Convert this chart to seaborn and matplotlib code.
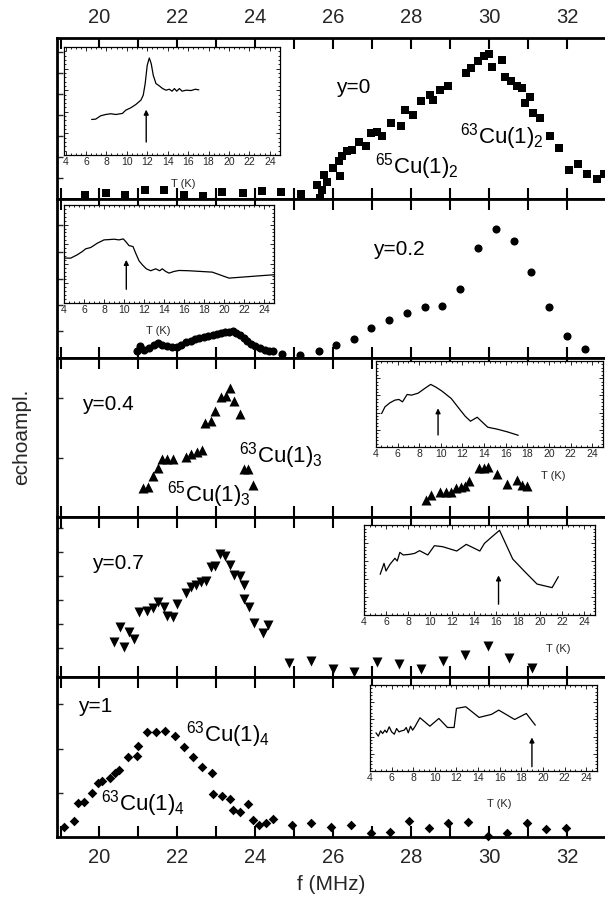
import numpy as np
import pandas as pd
import matplotlib
matplotlib.use("Agg")
import matplotlib.pyplot as plt
import seaborn as sns
from matplotlib.ticker import MultipleLocator

sns.set_theme(style="ticks")
plt.rcParams['font.family'] = ['Liberation Sans', 'DejaVu Sans']
plt.rcParams['mathtext.fontset'] = 'custom'
plt.rcParams['mathtext.rm'] = 'Liberation Sans'
plt.rcParams['mathtext.it'] = 'Liberation Sans:italic'

# ---------------- main spectra (f in MHz, echo amplitude in arb. units) -------------
f_y0 = [19.64, 20.16, 20.66, 21.16, 21.65, 22.17, 22.65, 23.15, 23.67, 24.17, 24.66, 25.16,
        25.59, 25.66, 25.72, 25.84, 25.75, 25.98, 26.18, 26.14, 26.23, 26.36, 26.48, 26.66,
        26.84, 26.97, 27.11, 27.25, 27.47, 27.74, 27.84, 28.04, 28.24, 28.47, 28.56, 28.74,
        28.95, 29.40, 29.53, 29.70, 29.87, 30.00, 30.07, 30.32, 30.41, 30.55, 30.70, 30.83,
        31.04, 30.91, 31.11, 31.29, 31.55, 31.79, 32.04, 32.28, 32.51, 32.77, 32.94]
a_y0 = [0.027, 0.037, 0.023, 0.054, 0.058, 0.027, 0.021, 0.041, 0.037, 0.048, 0.041, 0.033,
        0.089, 0.006, 0.058, 0.104, 0.151, 0.193, 0.145, 0.234, 0.269, 0.296, 0.306, 0.352,
        0.331, 0.410, 0.414, 0.393, 0.472, 0.451, 0.555, 0.524, 0.607, 0.648, 0.617, 0.679,
        0.704, 0.783, 0.814, 0.855, 0.886, 0.903, 0.818, 0.865, 0.758, 0.731, 0.704, 0.689,
        0.634, 0.596, 0.534, 0.503, 0.389, 0.317, 0.178, 0.219, 0.157, 0.124, 0.157]

f_y02 = [20.95, 21.04, 21.13, 21.27, 21.40, 21.49, 21.61, 21.72, 21.86, 21.99, 22.10, 22.22,
         22.34, 22.45, 22.55, 22.67, 22.79, 22.90, 23.01, 23.13, 23.23, 23.33, 23.42, 23.51,
         23.61, 23.70, 23.79, 23.89, 24.00, 24.12, 24.24, 24.35, 24.46,
         24.69, 25.14, 25.62, 26.07, 26.52, 26.97, 27.43, 27.90, 28.35, 28.79, 29.26, 29.71,
         30.17, 30.63, 31.07, 31.54, 32.00, 32.45]
a_y02 = [0.042, 0.073, 0.052, 0.063, 0.079, 0.094, 0.079, 0.073, 0.067, 0.071, 0.084, 0.098,
         0.109, 0.121, 0.125, 0.130, 0.136, 0.146, 0.151, 0.157, 0.161, 0.163, 0.167, 0.157,
         0.142, 0.126, 0.105, 0.088, 0.073, 0.063, 0.052, 0.046, 0.042,
         0.027, 0.021, 0.046, 0.079, 0.119, 0.188, 0.241, 0.282, 0.318, 0.324, 0.433, 0.690,
         0.812, 0.738, 0.540, 0.318, 0.136, 0.059]

f_y04 = [21.11, 21.25, 21.38, 21.49, 21.61, 21.74, 21.88, 22.22, 22.36, 22.49, 22.63, 22.72,
         22.85, 22.97, 23.11, 23.24, 23.35, 23.44, 23.60, 23.70, 23.82, 23.95,
         28.38, 28.51, 28.74, 28.88, 29.01, 29.15, 29.27, 29.38, 29.49, 29.74, 29.86, 29.98,
         30.21, 30.46, 30.71, 30.85, 30.98]
a_y04 = [0.185, 0.191, 0.261, 0.307, 0.366, 0.366, 0.366, 0.380, 0.395, 0.408, 0.422, 0.590,
         0.601, 0.668, 0.752, 0.758, 0.811, 0.731, 0.647, 0.303, 0.303, 0.202,
         0.107, 0.139, 0.155, 0.155, 0.155, 0.185, 0.191, 0.197, 0.227, 0.311, 0.311, 0.317,
         0.269, 0.206, 0.233, 0.202, 0.197]

f_y07 = [20.38, 20.53, 20.63, 20.77, 20.89, 21.01, 21.22, 21.38, 21.51, 21.65, 21.74, 21.88,
         21.99, 22.22, 22.34, 22.47, 22.61, 22.74, 22.85, 22.97, 23.10, 23.22, 23.35, 23.46,
         23.60, 23.70, 23.70, 23.83, 23.97, 24.19, 24.33,
         24.87, 25.42, 25.98, 26.54, 27.11, 27.68, 28.24, 28.81, 29.38, 29.96, 30.51, 31.10]
a_y07 = [0.221, 0.310, 0.190, 0.283, 0.235, 0.408, 0.415, 0.429, 0.471, 0.440, 0.381, 0.373,
         0.456, 0.523, 0.560, 0.575, 0.596, 0.602, 0.690, 0.694, 0.769, 0.758, 0.700, 0.638,
         0.631, 0.575, 0.485, 0.435, 0.335, 0.273, 0.325,
         0.090, 0.100, 0.048, 0.033, 0.096, 0.081, 0.048, 0.102, 0.138, 0.194, 0.117, 0.058]

f_y1 = [19.09, 19.35, 19.44, 19.59, 19.80, 19.95, 20.07, 20.27, 20.41, 20.50, 20.74, 20.95,
        21.00, 21.22, 21.45, 21.68, 21.93, 22.16, 22.40, 22.64, 22.88, 22.92, 23.14, 23.35,
        23.42, 23.60, 23.82, 23.94, 24.08, 24.28, 24.46,
        24.95, 25.43, 25.95, 26.45, 26.96, 27.45, 27.95, 28.45, 28.95, 29.45, 29.96, 30.46,
        30.96, 31.46, 31.96]
a_y1 = [0.065, 0.102, 0.215, 0.221, 0.277, 0.335, 0.352, 0.367, 0.398, 0.419, 0.502, 0.506,
        0.569, 0.658, 0.658, 0.665, 0.631, 0.560, 0.498, 0.440, 0.398, 0.269, 0.256, 0.235,
        0.169, 0.158, 0.206, 0.106, 0.075, 0.085, 0.110,
        0.075, 0.085, 0.060, 0.075, 0.027, 0.033, 0.102, 0.058, 0.085, 0.096, 0.006, 0.027,
        0.085, 0.048, 0.054]

# ---------------- insets: T (K) vs signal ----------------
t_in0 = [6.56, 6.95, 7.44, 7.93, 8.43, 8.92, 9.57, 9.90, 10.39, 10.89, 11.38, 11.61, 11.80,
         12.0, 12.2, 12.39, 12.59, 12.85, 13.18, 13.51, 13.84, 14.16, 14.43, 14.66, 14.89,
         15.15, 15.41, 15.80, 16.30, 16.72, 17.05]
s_in0 = [0.329, 0.332, 0.363, 0.375, 0.382, 0.375, 0.385, 0.415, 0.437, 0.468, 0.508, 0.554,
         0.662, 0.831, 0.898, 0.846, 0.738, 0.662, 0.640, 0.615, 0.600, 0.609, 0.591, 0.615,
         0.591, 0.615, 0.591, 0.600, 0.597, 0.609, 0.603]
arrow_in0 = (11.9, 0.12, 0.42)

t_in02 = [4.0, 4.67, 5.33, 5.83, 6.17, 6.67, 7.33, 8.0, 8.5, 9.0, 9.5, 9.93, 10.17, 10.5, 10.9,
          11.17, 11.5, 11.83, 12.23, 12.67, 13.17, 13.57, 13.83, 14.17, 14.5, 15.0, 15.5,
          16.5, 18.83, 20.5, 24.0, 25.0]
s_in02 = [0.458, 0.458, 0.492, 0.525, 0.553, 0.566, 0.610, 0.644, 0.647, 0.651, 0.644, 0.654,
          0.627, 0.586, 0.576, 0.508, 0.431, 0.390, 0.349, 0.329, 0.349, 0.329, 0.349, 0.322,
          0.305, 0.322, 0.332, 0.329, 0.315, 0.254, 0.281, 0.288]
arrow_in02 = (10.23, 0.14, 0.44)

t_in04 = [4.52, 4.83, 5.29, 5.75, 6.12, 6.45, 6.88, 7.28, 7.9, 8.51, 9.06, 9.58, 10.1, 10.96,
          11.73, 12.25, 12.74, 13.36, 13.88, 14.34, 15.26, 16.18, 17.16]
s_in04 = [0.389, 0.467, 0.514, 0.545, 0.553, 0.525, 0.611, 0.603, 0.626, 0.681, 0.728, 0.693,
          0.650, 0.564, 0.440, 0.358, 0.300, 0.346, 0.284, 0.230, 0.206, 0.175, 0.136]
arrow_in04 = (9.74, 0.14, 0.45)

t_in07 = [5.47, 5.82, 6.0, 6.36, 6.81, 7.02, 7.26, 7.56, 8.16, 8.61, 9.05, 9.80, 10.4, 11.15,
          12.43, 13.30, 14.53, 14.95, 15.64, 16.32, 17.52, 18.62, 19.73, 21.1, 21.67]
s_in07 = [0.452, 0.574, 0.489, 0.563, 0.630, 0.600, 0.696, 0.667, 0.674, 0.685, 0.715, 0.667,
          0.770, 0.759, 0.711, 0.785, 0.711, 0.796, 0.870, 0.941, 0.622, 0.481, 0.344, 0.304,
          0.426]
arrow_in07 = (16.23, 0.12, 0.44)

t_in1 = [4.55, 4.77, 4.98, 5.17, 5.38, 5.54, 5.78, 6.0, 6.25, 6.46, 6.68, 6.92, 7.17, 7.35,
         7.54, 7.75, 7.94, 8.15, 8.62, 9.54, 10.37, 11.17, 11.78, 12.0, 12.86, 14.09, 15.23,
         15.91, 17.38, 18.46, 19.29]
s_in1 = [0.444, 0.405, 0.467, 0.436, 0.475, 0.447, 0.514, 0.455, 0.428, 0.494, 0.455, 0.467,
         0.475, 0.506, 0.444, 0.521, 0.475, 0.514, 0.619, 0.521, 0.611, 0.506, 0.506, 0.728,
         0.747, 0.623, 0.658, 0.708, 0.599, 0.669, 0.533]
arrow_in1 = (18.98, 0.05, 0.39)

W, H = 605, 909
fig = plt.figure(figsize=(W / 100, H / 100), dpi=100)

def fx(px):
    return px / W

def fy(py):
    return 1 - py / H

XL, XR = 57, 605
FMIN, FMAX = 18.91, 32.97
panel_px = [(38, 199), (199, 358), (358, 517), (517, 677), (677, 837)]

panels = [
    (f_y0, a_y0, 's', 36, [0.13 * k for k in range(1, 8)]),
    (f_y02, a_y02, 'o', 34, [0.167, 0.334, 0.5, 0.667, 0.834]),
    (f_y04, a_y04, '^', 52, [0.37, 0.75]),
    (f_y07, a_y07, 'v', 52, [0.18, 0.33, 0.48, 0.63, 0.78, 0.93]),
    (f_y1, a_y1, 'D', 24, [0.273, 0.55, 0.829]),
]

axes = []
for i, ((top, bot), (fv, av, mk, ms, yt)) in enumerate(zip(panel_px, panels)):
    ax = fig.add_axes([fx(XL), fy(bot), fx(XR - XL), (bot - top) / H])
    df = pd.DataFrame({'f': fv, 'a': av})
    sns.scatterplot(data=df, x='f', y='a', marker=mk, s=ms, color='black',
                    linewidth=0, ax=ax, clip_on=False, zorder=3)
    ax.set_xlim(FMIN, FMAX)
    ax.set_ylim(0, 1)
    ax.set_xlabel('')
    ax.set_ylabel('')
    ax.set_facecolor('white')
    for s in ['left', 'top', 'bottom']:
        ax.spines[s].set_linewidth(2)
        ax.spines[s].set_color('black')
    ax.spines['right'].set_visible(False)
    ax.xaxis.set_major_locator(MultipleLocator(2))
    ax.xaxis.set_minor_locator(MultipleLocator(1))
    ax.tick_params(axis='x', which='both', direction='in', top=True, bottom=True,
                   width=1.5, length=8, color='black', labelsize=14.5, pad=8,
                   labelbottom=(i == 4), labeltop=(i == 0))
    ax.set_yticks(yt)
    ax.yaxis.set_minor_locator(matplotlib.ticker.NullLocator())
    ax.tick_params(axis='y', which='both', direction='in', left=True, right=False,
                   width=1, length=4, labelleft=False)
    axes.append(ax)

txt = dict(fontsize=15, color='black', ha='left', va='center')
cu = dict(fontsize=16, color='black', ha='left', va='center')
axes[0].text(26.07, 0.69, 'y=0', **txt)
axes[0].text(27.07, 0.20, r'$^{65}$Cu(1)$_{2}$', **cu)
axes[0].text(29.26, 0.387, r'$^{63}$Cu(1)$_{2}$', **cu)
axes[1].text(27.02, 0.68, 'y=0.2', **txt)
axes[2].text(19.55, 0.706, 'y=0.4', **txt)
axes[2].text(23.58, 0.387, r'$^{63}$Cu(1)$_{3}$', **cu)
axes[2].text(21.72, 0.143, r'$^{65}$Cu(1)$_{3}$', **cu)
axes[3].text(19.82, 0.71, 'y=0.7', **txt)
axes[4].text(19.46, 0.815, 'y=1', **txt)
axes[4].text(22.22, 0.638, r'$^{63}$Cu(1)$_{4}$', **cu)
axes[4].text(20.05, 0.21, r'$^{63}$Cu(1)$_{4}$', **cu)

# insets
insets = [
    ((64, 280, 47, 155), t_in0, s_in0, arrow_in0, (3.85, 25), (0.55, 24)),
    ((64, 274, 205, 303), t_in02, s_in02, arrow_in02, (4, 25), (0.45, 23)),
    ((376, 603, 361, 447), t_in04, s_in04, arrow_in04, (4, 25), (0.78, 24)),
    ((364, 595, 525, 615), t_in07, s_in07, arrow_in07, (4, 25), (0.84, 29)),
    ((370, 597, 685, 771), t_in1, s_in1, arrow_in1, (4, 25), (0.57, 28)),
]
for (x0, x1, y0, y1), tv, sv, (ta, ya0, ya1), xl, (lx, ly) in insets:
    ia = fig.add_axes([fx(x0), fy(y1), fx(x1 - x0), (y1 - y0) / H])
    ia.set_facecolor('white')
    dfi = pd.DataFrame({'T': tv, 's': sv})
    sns.lineplot(data=dfi, x='T', y='s', sort=False, estimator=None, color='black',
                 linewidth=0.9, ax=ia)
    ia.annotate('', xy=(ta, ya1), xytext=(ta, ya0),
                arrowprops=dict(arrowstyle='-|>', color='black', lw=1.0,
                                mutation_scale=7, shrinkA=0, shrinkB=0))
    ia.set_xlim(*xl)
    ia.set_ylim(0, 1)
    ia.set_ylabel('')
    ia.set_xlabel('T (K)', fontsize=8)
    h = y1 - y0
    ia.xaxis.set_label_coords(lx, -ly / h)
    for s in ia.spines.values():
        s.set_linewidth(0.9)
        s.set_color('black')
    ia.xaxis.set_major_locator(MultipleLocator(2))
    ia.xaxis.set_minor_locator(MultipleLocator(0.5))
    ia.yaxis.set_major_locator(MultipleLocator(0.2))
    ia.yaxis.set_minor_locator(MultipleLocator(0.04))
    ia.tick_params(which='both', direction='in', top=True, right=True, left=True,
                   bottom=True, width=0.6, color='black', labelleft=False)
    ia.tick_params(which='major', length=3)
    ia.tick_params(which='minor', length=1.5)
    ia.tick_params(axis='x', labelsize=7.5, pad=1.5)

fig.text(fx(331), fy(884), 'f (MHz)', fontsize=15, ha='center', va='center')
fig.text(fx(22), fy(437), 'echoampl.', fontsize=15, ha='center', va='center',
         rotation=90)

fig.savefig('out.png', dpi=100, facecolor='white')
